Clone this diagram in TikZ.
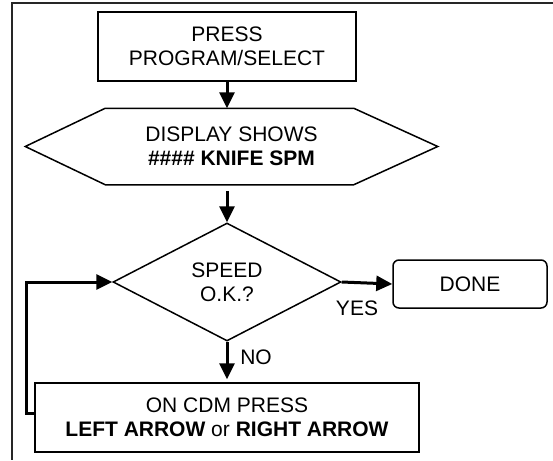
\documentclass[tikz,border=0pt]{standalone}
\usepackage{fontspec}
\setmainfont{Liberation Sans}
\usetikzlibrary{arrows.meta,shapes.geometric,calc}
\begin{document}
\begin{tikzpicture}[x=1pt,y=-1pt,
  box/.style={draw,line width=1.5pt,inner sep=0pt,align=center,font=\fontsize{21}{24}\selectfont},
  lbl/.style={inner sep=0pt,font=\fontsize{21}{24}\selectfont},
  flow/.style={line width=3pt,-{Triangle[length=16pt,width=15pt]}},
  frameline/.style={line width=1.6pt,draw=black!85}]
\useasboundingbox (0,0) rectangle (553,460);
% outer frame
\draw[frameline] (553,3) -- (12,3) -- (12,460);
% nodes
\node[box,minimum width=258pt,minimum height=69pt] (top) at (227,46.5) {PRESS\\PROGRAM/SELECT};
\node[box,draw=none,minimum width=411pt,minimum height=75pt] (hex) at (231.5,146.5) {DISPLAY SHOWS\\\textbf{\#\#\#\# KNIFE SPM}};
\draw[line width=1.5pt,line join=miter] (hex.west) -- ($(hex.north west)+(80,0)$) -- ($(hex.north east)+(-84,0)$) -- (hex.east) -- ($(hex.south east)+(-84,0)$) -- ($(hex.south west)+(80,0)$) -- cycle;
\node[box,diamond,aspect=1.93,minimum width=228pt,minimum height=118pt] (dia) at (227,282) {SPEED\\O.K.?};
\node[box,rounded corners=6pt,minimum width=154pt,minimum height=48pt] (done) at (470,284) {DONE};
\node[box,minimum width=384pt,minimum height=69pt] (bot) at (227,417.5) {ON CDM PRESS\\\textbf{LEFT ARROW} or \textbf{RIGHT ARROW}};
% labels
\node[lbl] (yes) at (357,308) {YES};
\node[lbl] (no) at (256,357) {NO};
% connectors
\draw[flow] (top.south) -- (top.south |- hex.north);
\draw[flow,shorten <=6pt] (top.south |- hex.south) -- (dia.north);
\draw[flow] (dia.east) -- (done.west);
\draw[flow,shorten >=3pt] (dia.south) -- (bot.north);
\coordinate (fb) at ($(bot.west)+(0,-4.5)$);
\draw[flow,line join=miter] (fb) -- ++(-8,0) |- (dia.west);
\end{tikzpicture}
\end{document}
